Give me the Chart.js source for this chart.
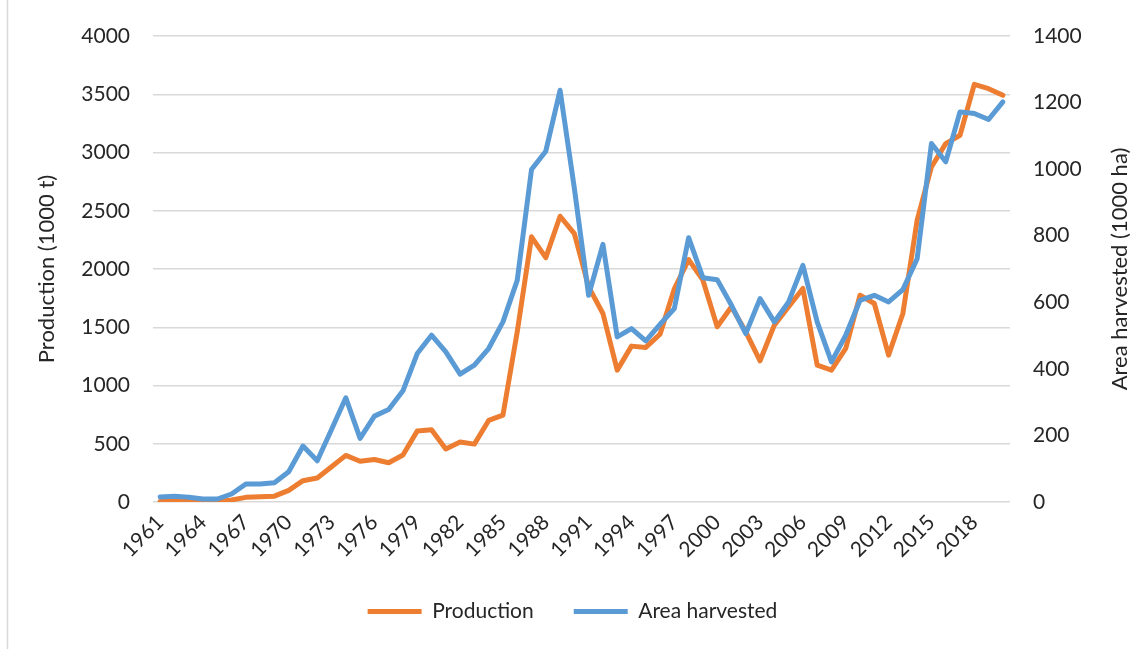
<!DOCTYPE html>
<html>
<head>
<meta charset="utf-8">
<script src="https://cdn.jsdelivr.net/npm/chart.js@4.4.0/dist/chart.umd.min.js"></script>
<style>
html,body{margin:0;padding:0;background:#fff;}
#wrap{width:1145px;height:649px;position:relative;}
</style>
</head>
<body>
<div id="wrap"><canvas id="c" width="1145" height="649"></canvas></div>
<script>
const years = [];
for (let y = 1961; y <= 2020; y++) years.push(String(y));

const production = [5,5,5,2,2,17,40,45,50,100,
  183,206,303,400,350,365,337,403,610,620,
  455,515,497,700,746,1460,2276,2098,2453,2304,
  1847,1618,1132,1338,1327,1441,1830,2081,1904,1504,
  1676,1461,1212,1518,1676,1833,1175,1132,1318,1775,
  1704,1261,1618,2419,2876,3076,3148,3585,3548,3491];

const areaHarvested = [15,17,14,9,9,24,54,54,58,91,
  168,124,218,313,191,258,278,334,446,501,
  451,384,411,461,541,666,999,1054,1237,942,
  621,774,496,521,484,534,581,794,674,668,
  591,506,611,541,601,711,541,421,501,606,
  621,601,638,731,1077,1022,1172,1167,1149,1202];

const leftTicks = {min:0, max:4000, step:500};
const rightTicks = {min:0, max:1400, step:200};

const FONT = 'Lato, "Open Sans", sans-serif';
const TXT = '#262626';

const extras = {
  id: 'extras',
  afterDraw(chart) {
    const ctx = chart.ctx;
    ctx.save();
    ctx.strokeStyle = '#d9d9d9';
    ctx.lineWidth = 1.5;
    ctx.beginPath();
    ctx.moveTo(7.5, 0);
    ctx.lineTo(7.5, 649);
    ctx.stroke();
    const ya = chart.scales.y2;
    const cy = (ya.top + ya.bottom) / 2;
    ctx.translate(1120, cy);
    ctx.rotate(-Math.PI / 2);
    ctx.fillStyle = TXT;
    ctx.font = '22px ' + FONT;
    ctx.textAlign = 'center';
    ctx.textBaseline = 'middle';
    ctx.fillText('Area harvested (1000 ha)', 0, 0);
    ctx.restore();
  }
};

new Chart(document.getElementById('c'), {
  type: 'line',
  data: {
    labels: years,
    datasets: [
      {
        label: 'Area harvested',
        data: areaHarvested,
        yAxisID: 'y2',
        borderColor: '#5B9BD5',
        backgroundColor: '#5B9BD5',
        borderWidth: 5,
        pointRadius: 0,
        tension: 0,
        borderJoinStyle: 'round',
        borderCapStyle: 'round'
      },
      {
        label: 'Production',
        data: production,
        yAxisID: 'y',
        borderColor: '#ED7D31',
        backgroundColor: '#ED7D31',
        borderWidth: 5,
        pointRadius: 0,
        tension: 0,
        borderJoinStyle: 'round',
        borderCapStyle: 'round'
      }
    ]
  },
  options: {
    responsive: false,
    animation: false,
    devicePixelRatio: 1,
    layout: {padding: {top: 36, bottom: 17, left: 0, right: 0}},
    plugins: {
      tooltip: {enabled: false},
      legend: {
        position: 'bottom',
        labels: {
          color: TXT,
          font: {family: FONT, size: 21},
          boxWidth: 54,
          boxHeight: 5,
          padding: 40,
          sort: (a, b) => b.datasetIndex - a.datasetIndex,
          generateLabels(chart) {
            const items = Chart.defaults.plugins.legend.labels.generateLabels(chart);
            items.forEach(it => { it.lineWidth = 0; it.fillStyle = it.strokeStyle; });
            return items;
          }
        }
      }
    },
    scales: {
      x: {
        type: 'category',
        offset: true,
        grid: {display: false, drawTicks: false},
        border: {display: false},
        afterFit(s) { s.height = 59; },
        ticks: {
          autoSkip: false,
          maxRotation: 45,
          minRotation: 45,
          padding: 8,
          color: TXT,
          font: {family: FONT, size: 21},
          callback(v, i) { return i % 3 === 0 ? this.getLabelForValue(v) : ''; }
        }
      },
      y: {
        position: 'left',
        min: leftTicks.min,
        max: leftTicks.max,
        afterFit(s) { s.width = 153; },
        grid: {color: '#d9d9d9', lineWidth: 1.5, drawTicks: false},
        border: {display: false},
        ticks: {stepSize: leftTicks.step, padding: 23, color: TXT, font: {family: FONT, size: 21},
          callback: v => String(v)},
        title: {display: true, text: 'Production (1000 t)', color: TXT, font: {family: FONT, size: 22}, padding: {top: 34, bottom: 0}}
      },
      y2: {
        position: 'right',
        min: rightTicks.min,
        max: rightTicks.max,
        afterFit(s) { s.width = 135; },
        grid: {display: false, drawTicks: false},
        border: {display: false},
        ticks: {stepSize: rightTicks.step, padding: 23, color: TXT, font: {family: FONT, size: 21},
          callback: v => String(v)}
      }
    }
  },
  plugins: [extras]
});
</script>
</body>
</html>
